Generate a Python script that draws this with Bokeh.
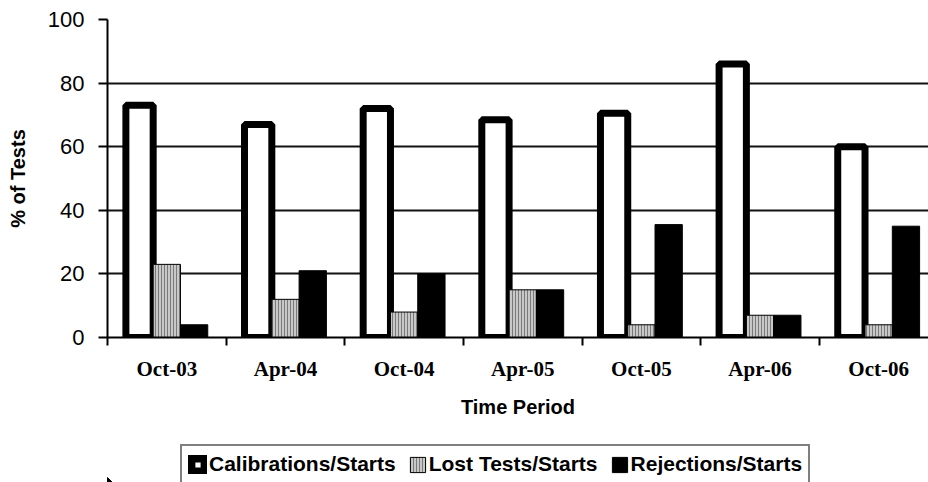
from bokeh.plotting import figure
from bokeh.models import Range1d, FixedTicker, Legend, LegendItem
from bokeh.layouts import column
from bokeh.embed import file_html
from bokeh.resources import INLINE

categories = ["Oct-03", "Apr-04", "Oct-04", "Apr-05", "Oct-05", "Apr-06", "Oct-06"]
calibrations = [73, 67, 72, 68.5, 70.5, 86, 60]
lost_tests = [23, 12, 8, 15, 4, 7, 4]
rejections = [4, 21, 20, 15, 35.5, 7, 35]
y_ticks = [0, 20, 40, 60, 80, 100]
series_names = ["Calibrations/Starts", "Lost Tests/Starts", "Rejections/Starts"]

centers = [i + 0.5 for i in range(len(categories))]
bw = 0.23
off = 0.23

p = figure(width=928, height=440, output_backend="svg", toolbar_location=None,
           x_range=Range1d(0, 6.92), y_range=Range1d(0, 100),
           min_border_left=107, min_border_right=0, min_border_top=19, min_border_bottom=103)
p.outline_line_color = None
p.background_fill_color = "white"
p.border_fill_color = "white"

# grid
p.xgrid.grid_line_color = None
p.ygrid.grid_line_color = "#111111"
p.ygrid.grid_line_width = 2
p.ygrid.ticker = FixedTicker(ticks=y_ticks)

white_style = dict(fill_color="white", line_color="black")
gray_style = dict(fill_color="#c8c8c8", line_color="black", line_width=1,
                  hatch_pattern="|", hatch_color="#7a7a7a", hatch_scale=3, hatch_weight=1)
black_style = dict(fill_color="black", line_color="black", line_width=1)

p.vbar(x=[c - off for c in centers], top=calibrations, width=bw, bottom=0,
       line_width=7, **white_style)
p.vbar(x=centers, top=lost_tests, width=bw, bottom=0, **gray_style)
p.vbar(x=[c + off for c in centers], top=rejections, width=bw, bottom=0, **black_style)

# y axis
p.yaxis.ticker = FixedTicker(ticks=y_ticks)
p.yaxis.axis_line_color = "black"
p.yaxis.axis_line_width = 2
p.yaxis.major_tick_line_width = 2
p.yaxis.major_tick_out = 9
p.yaxis.major_tick_in = 0
p.yaxis.minor_tick_line_color = None
p.yaxis.major_label_text_font = "Liberation Sans"
p.yaxis.major_label_text_font_size = "22px"
p.yaxis.major_label_text_color = "black"
p.yaxis.major_label_standoff = 14
p.yaxis.axis_label = "% of Tests"
p.yaxis.axis_label_text_font = "Liberation Sans"
p.yaxis.axis_label_text_font_style = "bold"
p.yaxis.axis_label_text_font_size = "20px"
p.yaxis.axis_label_text_color = "black"
p.yaxis.axis_label_standoff = 16

# x axis
p.xaxis.ticker = FixedTicker(ticks=centers, minor_ticks=list(range(len(categories) + 1)))
p.xaxis.major_label_overrides = {c: lab for c, lab in zip(centers, categories)}
p.xaxis.axis_line_color = "black"
p.xaxis.axis_line_width = 2
p.xaxis.major_tick_line_color = None
p.xaxis.minor_tick_line_color = "black"
p.xaxis.minor_tick_line_width = 2
p.xaxis.minor_tick_out = 8
p.xaxis.minor_tick_in = 0
p.xaxis.major_label_text_font = "Liberation Serif"
p.xaxis.major_label_text_font_style = "bold"
p.xaxis.major_label_text_font_size = "21px"
p.xaxis.major_label_text_color = "black"
p.xaxis.major_label_standoff = 11
p.xaxis.axis_label = "Time Period"
p.xaxis.axis_label_text_font = "Liberation Sans"
p.xaxis.axis_label_text_font_style = "bold"
p.xaxis.axis_label_text_font_size = "20px"
p.xaxis.axis_label_text_color = "black"
p.xaxis.axis_label_standoff = 12

# legend strip below the chart (its renderers hold the same data, kept out of view)
p2 = figure(width=928, height=42, output_backend="svg", toolbar_location=None,
            x_range=Range1d(7.5, 8.5), y_range=Range1d(100, 101),
            x_axis_location=None, y_axis_location=None,
            min_border_left=0, min_border_right=0, min_border_top=0, min_border_bottom=0)
p2.outline_line_color = None
p2.grid.grid_line_color = None
p2.background_fill_color = "white"
p2.border_fill_color = "white"
l1 = p2.vbar(x=[c - off for c in centers], top=calibrations, width=bw, line_width=10, **white_style)
l2 = p2.vbar(x=centers, top=lost_tests, width=bw, **gray_style)
l3 = p2.vbar(x=[c + off for c in centers], top=rejections, width=bw, **black_style)

legend = Legend(items=[LegendItem(label=series_names[0], renderers=[l1]),
                       LegendItem(label=series_names[1], renderers=[l2]),
                       LegendItem(label=series_names[2], renderers=[l3])],
                orientation="horizontal", location=(73, -2))
legend.label_text_font = "Liberation Sans"
legend.label_text_font_style = "bold"
legend.label_text_font_size = "21px"
legend.label_text_color = "black"
legend.glyph_width = 19
legend.glyph_height = 19
legend.label_standoff = 2
legend.spacing = 12
legend.padding = 6
legend.margin = 0
legend.border_line_color = "black"
legend.border_line_width = 2
legend.background_fill_alpha = 1
p2.add_layout(legend)

layout = column(p, p2, spacing=0)
open("out.html", "w").write(file_html(layout, INLINE))
